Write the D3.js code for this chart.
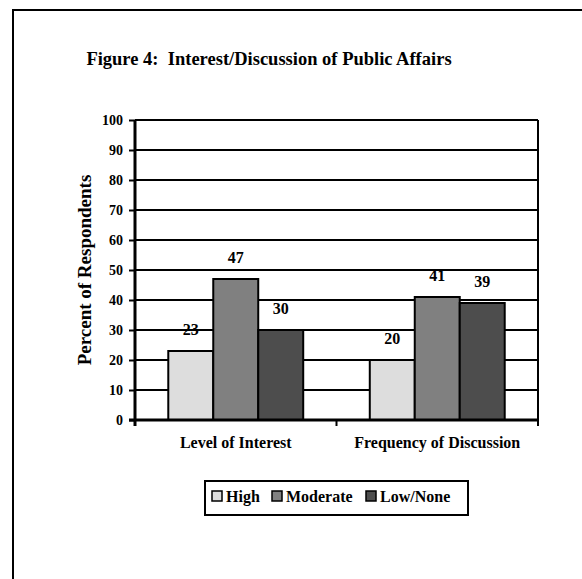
<!DOCTYPE html>
<html>
<head>
<meta charset="utf-8">
<script src="https://cdn.jsdelivr.net/npm/d3@7"></script>
<style>
  body { margin: 0; background: #fff; }
  svg { display: block; font-family: "Times New Roman", "Liberation Serif", serif; font-weight: bold; }
</style>
</head>
<body>
<div id="chart"></div>
<script>
/* Figure 4: interest / discussion grouped bars */

const categories = ["Level of Interest", "Frequency of Discussion"];
const seriesNames = ["High", "Moderate", "Low/None"];
const highValues = [23, 20];
const moderateValues = [47, 41];
const lowValues = [30, 39];
const yTicks = [0, 10, 20, 30, 40, 50, 60, 70, 80, 90, 100];

const seriesValues = [highValues, moderateValues, lowValues];
const colors = ["#dddddd", "#808080", "#4d4d4d"];

const width = 582, height = 579;
const margin = { top: 120, right: 44, bottom: 159, left: 135 };
const plotW = width - margin.left - margin.right;
const plotH = height - margin.top - margin.bottom;

const svg = d3.select("#chart").append("svg")
  .attr("width", width)
  .attr("height", height);

// outer frame, runs off right and bottom edges
svg.append("rect")
  .attr("x", 13).attr("y", 10)
  .attr("width", width).attr("height", height)
  .attr("fill", "none").attr("stroke", "#000").attr("stroke-width", 2);

svg.append("text")
  .attr("x", 269).attr("y", 65)
  .attr("text-anchor", "middle")
  .attr("font-size", 18.5)
  .style("white-space", "pre")
  .text("Figure 4:  Interest/Discussion of Public Affairs");

const x0 = d3.scaleBand().domain(categories).range([0, plotW]);
const x1 = d3.scaleBand().domain(seriesNames).range([0, x0.bandwidth()]).paddingOuter(0.74);
const y = d3.scaleLinear().domain([0, 100]).range([plotH, 0]);

const g = svg.append("g").attr("transform", `translate(${margin.left},${margin.top})`);

// gridlines
g.selectAll(".grid")
  .data(yTicks.filter(t => t > 0))
  .join("line")
  .attr("x1", 0).attr("x2", plotW)
  .attr("y1", d => y(d)).attr("y2", d => y(d))
  .attr("stroke", "#000").attr("stroke-width", 2);

// right frame of plot area
g.append("line")
  .attr("x1", plotW).attr("x2", plotW)
  .attr("y1", 0).attr("y2", plotH)
  .attr("stroke", "#000").attr("stroke-width", 2);

// bars
const cells = [];
categories.forEach((c, i) => {
  seriesNames.forEach((s, j) => cells.push({ c, s, j, v: seriesValues[j][i] }));
});

g.selectAll(".bar")
  .data(cells)
  .join("rect")
  .attr("x", d => x0(d.c) + x1(d.s))
  .attr("y", d => y(d.v))
  .attr("width", x1.bandwidth())
  .attr("height", d => plotH - y(d.v))
  .attr("fill", d => colors[d.j])
  .attr("stroke", "#000").attr("stroke-width", 2);

// value labels
g.selectAll(".val")
  .data(cells)
  .join("text")
  .attr("x", d => x0(d.c) + x1(d.s) + x1.bandwidth() / 2)
  .attr("y", d => y(d.v) - 16)
  .attr("text-anchor", "middle")
  .attr("font-size", 16)
  .text(d => d.v);

// y axis
const yAxis = g.append("g")
  .call(d3.axisLeft(y).tickValues(yTicks).tickSize(6).tickPadding(6));
yAxis.attr("font-family", null).attr("font-size", null);
yAxis.select(".domain").attr("stroke-width", 3).attr("d", `M0,0V${plotH + 6}`);
yAxis.selectAll(".tick line").attr("stroke-width", 2);
yAxis.selectAll("text")
  .attr("font-size", 14)
  .attr("fill", "#000");

// x axis
const xAxis = g.append("g")
  .attr("transform", `translate(0,${plotH})`)
  .call(d3.axisBottom(x0).tickSize(0).tickPadding(17));
xAxis.attr("font-family", null).attr("font-size", null);
xAxis.select(".domain").attr("stroke-width", 3).attr("d", `M-6,0H${plotW}`);
xAxis.selectAll("text")
  .attr("font-size", 16)
  .attr("fill", "#000");
g.selectAll(".xtick")
  .data([0, x0.bandwidth(), plotW])
  .join("line")
  .attr("x1", d => d).attr("x2", d => d)
  .attr("y1", plotH).attr("y2", plotH + 6)
  .attr("stroke", "#000").attr("stroke-width", 2);

// y axis title
svg.append("text")
  .attr("transform", `translate(91,270) rotate(-90)`)
  .attr("text-anchor", "middle")
  .attr("font-size", 19)
  .text("Percent of Respondents");

// legend
const legend = svg.append("g");
legend.append("rect")
  .attr("x", 205).attr("y", 481)
  .attr("width", 263).attr("height", 34)
  .attr("fill", "#fff").attr("stroke", "#000").attr("stroke-width", 2);

const legendX = [212, 272, 366];
seriesNames.forEach((s, j) => {
  legend.append("rect")
    .attr("x", legendX[j]).attr("y", 491)
    .attr("width", 10).attr("height", 10)
    .attr("fill", colors[j]).attr("stroke", "#000").attr("stroke-width", 1.5);
  legend.append("text")
    .attr("x", legendX[j] + 14).attr("y", 502)
    .attr("font-size", 16)
    .text(s);
});
</script>
</body>
</html>
